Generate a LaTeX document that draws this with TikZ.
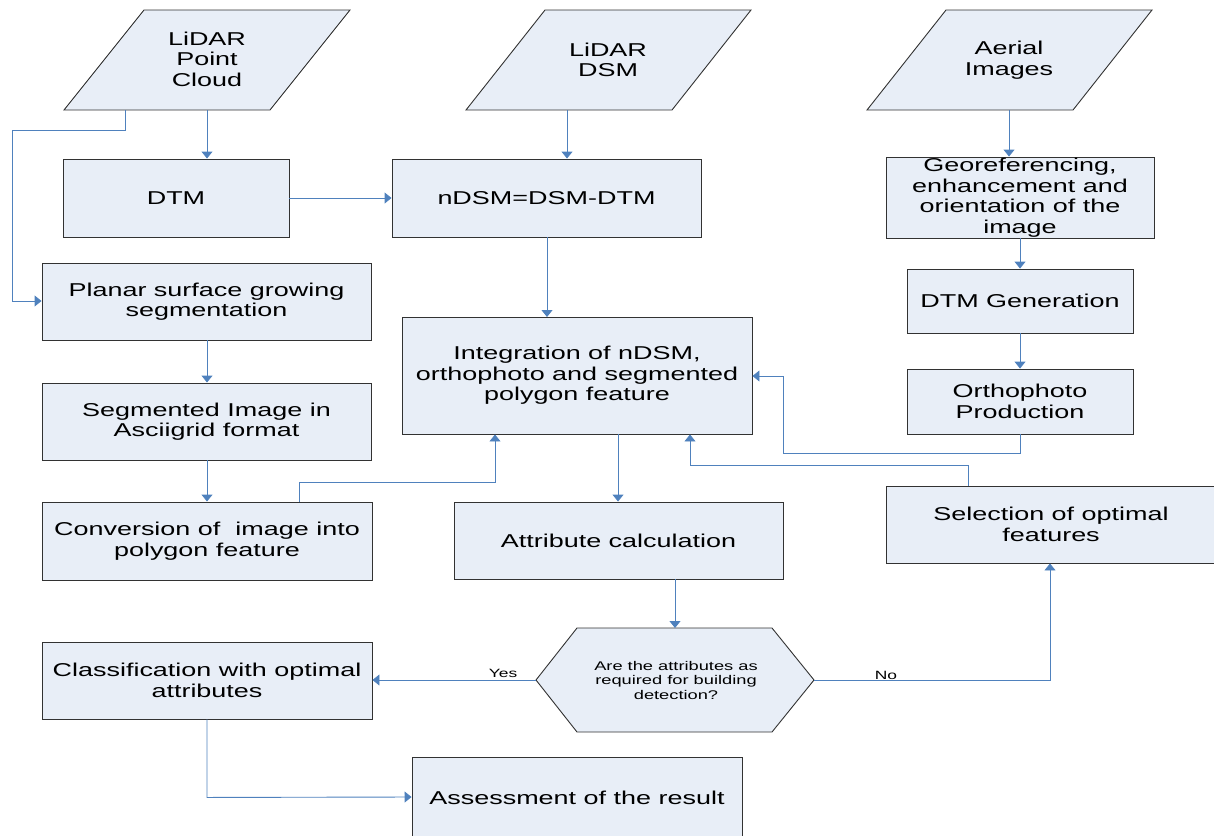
\documentclass[tikz,border=0pt]{standalone}
\usepackage{fontspec}
\setmainfont{Liberation Sans}[FakeStretch=1.45]
\usetikzlibrary{arrows.meta}
\definecolor{boxfill}{RGB}{232,238,247}
\definecolor{boxline}{RGB}{50,50,50}
\definecolor{linkblue}{RGB}{79,129,189}
\tikzset{
  boxnode/.style={draw=boxline, fill=boxfill, line width=0.9pt, inner sep=0pt, align=center,
    font=\fontsize{18.6}{20.5}\selectfont},
  shapeline/.style={draw=boxline, fill=boxfill, line width=0.9pt},
  plaintext/.style={inner sep=0pt, align=center, font=\fontsize{18.6}{20.5}\selectfont},
  hextext/.style={inner sep=0pt, align=center, font=\fontsize{12.6}{14.5}\selectfont},
  lbl/.style={inner sep=0pt, font=\fontsize{12}{14}\selectfont},
  link/.style={draw=linkblue, line width=0.9pt},
  arr/.style={link, -{Triangle[length=7pt,width=11pt]}}
}
\begin{document}
\begin{tikzpicture}[x=1pt,y=-1pt]
\useasboundingbox (0,0) rectangle (1214,835);
% parallelograms
\path[shapeline] (64,110) -- (144,10) -- (350,10) -- (270,110) -- cycle;
\path[shapeline] (466,110) -- (545,10) -- (751,10) -- (672,110) -- cycle;
\path[shapeline] (867,110) -- (946,10) -- (1152,10) -- (1073,110) -- cycle;
\node[plaintext] (pc) at (207,59) {LiDAR\\Point\\Cloud};
\node[plaintext] (dsm) at (608,60) {LiDAR\\DSM};
\node[plaintext] (aer) at (1009,60) {Aerial\\Images};
\coordinate (pcb) at (207,110);
\coordinate (pcl) at (125,110);
\coordinate (dsmb) at (567,110);
\coordinate (aerb) at (1009,110);
% boxes
\node[boxnode, minimum width=226pt, minimum height=78pt] (dtm) at (176,198) {DTM};
\node[boxnode, minimum width=309pt, minimum height=78pt] (ndsm) at (546.5,198) {nDSM=DSM-DTM};
\node[boxnode, minimum width=268pt, minimum height=81pt] (geo) at (1020,197.5) {Georeferencing,\\enhancement and\\orientation of the\\image};
\node[boxnode, minimum width=226pt, minimum height=64pt] (dtmg) at (1020,301) {DTM Generation};
\node[boxnode, minimum width=226pt, minimum height=65pt] (ortho) at (1020,401.5) {Orthophoto\\Production};
\node[boxnode, minimum width=329pt, minimum height=77pt] (planar) at (206.5,301.5) {Planar surface growing\\segmentation};
\node[boxnode, minimum width=329pt, minimum height=77pt] (seg) at (206.5,421.5) {Segmented Image in\\Asciigrid format};
\node[boxnode, minimum width=330pt, minimum height=78pt] (conv) at (207,541) {Conversion of \ image into\\polygon feature};
\node[boxnode, minimum width=350pt, minimum height=117pt] (integ) at (577,375.5) {Integration of nDSM,\\orthophoto and segmented\\polygon feature};
\node[boxnode, minimum width=329pt, minimum height=77pt] (attr) at (618.5,540.5) {Attribute calculation};
\node[boxnode, minimum width=330pt, minimum height=77pt] (sel) at (1051,524.5) {Selection of optimal\\features};
\node[boxnode, minimum width=330pt, minimum height=77pt] (class) at (207,680.5) {Classification with optimal\\attributes};
\node[boxnode, minimum width=330pt, minimum height=82pt] (assess) at (577,798) {Assessment of the result};
% hexagon
\path[shapeline] (577,628) -- (772,628) -- (814,680) -- (772,732) -- (577,732) -- (536,680) -- cycle;
\node[hextext] (hex) at (676,680) {Are the attributes as\\required for building\\detection?};
\coordinate (hexn) at (675,628);
\coordinate (hexw) at (536,680);
\coordinate (hexe) at (814,680);
% connectors
\draw[arr] (pcb) -- (pcb |- dtm.north);
\draw[arr] (pcl) -- ++(0,20) -| (12,301) -- (planar.west |- 0,301);
\draw[arr] (dtm.east) -- (ndsm.west);
\draw[arr] (dsmb) -- (dsmb |- ndsm.north);
\draw[arr] (547,237) -- (547,317);
\draw[arr] (aerb) -- (aerb |- geo.north);
\draw[arr] (geo.south) -- (dtmg.north);
\draw[arr] (dtmg.south) -- (ortho.north);
\draw[arr] (ortho.south) -- ++(0,19) -| (783,376) -- (integ.east |- 0,376);
\draw[arr] (planar.south -| 207,0) -- (seg.north -| 207,0);
\draw[arr] (seg.south -| 207,0) -- (conv.north -| 207,0);
\draw[arr] (conv.north -| 299,0) -- ++(0,-19) -| (integ.south -| 495,0);
\draw[arr] (integ.south -| 618,0) -- (attr.north -| 618,0);
\draw[arr] (attr.south -| hexn) -- (hexn);
\draw[arr] (hexw) -- (class.east |- hexw);
\draw[arr] (hexe) -| (sel.south -| 1050,0);
\draw[arr] (sel.north -| 968,0) -- ++(0,-20) -| (integ.south -| 690,0);
\draw[arr] (class.south) -- ++(0,78) -- (assess.west |- 0,797);
% labels
\node[lbl, anchor=base] (yes) at (503,677) {Yes};
\node[lbl, anchor=base] (no) at (886,679) {No};
\end{tikzpicture}
\end{document}
